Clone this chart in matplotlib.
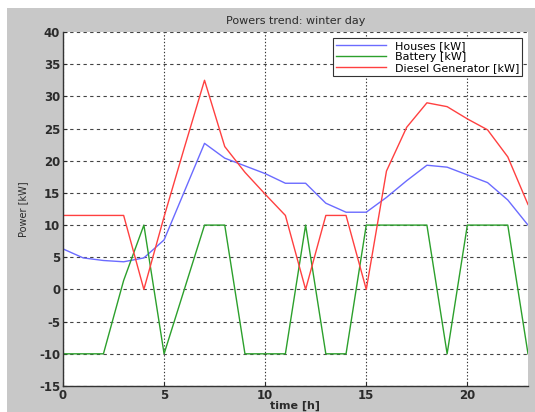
import matplotlib
matplotlib.use("Agg")
import matplotlib.pyplot as plt
from matplotlib.patches import Rectangle

plt.rcParams["axes.unicode_minus"] = False

# valori (ore 0..23)
hours = list(range(24))
houses = [6.3, 4.9, 4.5, 4.3, 4.9, 7.7, 15.2, 22.7, 20.4, 19.2, 18.0, 16.5,
          16.5, 13.4, 12.0, 12.0, 14.3, 16.9, 19.3, 19.0, 17.8, 16.6, 13.9, 10.0]
battery = [-10, -10, -10, 1.4, 10, -10, 0, 10, 10, -10, -10, -10,
           10, -10, -10, 10, 10, 10, 10, -10, 10, 10, 10, -10]
diesel = [11.5, 11.5, 11.5, 11.5, 0, 11.3, 22.0, 32.5, 22.2, 18.2, 14.8, 11.5,
          0, 11.5, 11.5, 0, 18.4, 25.2, 29.0, 28.4, 26.5, 24.8, 20.6, 13.2]
x_ticks = [0, 5, 10, 15, 20]
y_ticks = list(range(-15, 41, 5))

grey = "#c8c8c8"
txt = "#2b2b2b"

fig = plt.figure(figsize=(5.35, 4.12), dpi=100, facecolor="white")
# sfondo grigio stile MATLAB
fig.patches.append(Rectangle((7 / 535, 0), 1, 1 - 8 / 412, transform=fig.transFigure,
                             facecolor=grey, edgecolor="none", zorder=-1))

ax = fig.add_axes([63 / 535, 1 - 386 / 412, 465 / 535, 354 / 412])
ax.set_facecolor("white")

ax.plot(hours, houses, color="#6b6bff", lw=1.0, label="Houses [kW]")
ax.plot(hours, battery, color="#2ca02c", lw=1.0, label="Battery [kW]")
ax.plot(hours, diesel, color="#ff4040", lw=1.0, label="Diesel Generator [kW]")

ax.set_xlim(0, 23)
ax.set_ylim(-15, 40)
ax.set_xticks(x_ticks)
ax.set_yticks(y_ticks)
# verticali a puntini, orizzontali tratteggiate
ax.grid(True, axis="x", color="#333333", linestyle=(0, (1.2, 1.8)), linewidth=0.8)
ax.grid(True, axis="y", color="#444444", linestyle=(0, (3, 3)), linewidth=0.8)

for s in ["top", "right"]:
    ax.spines[s].set_visible(False)
for s in ["left", "bottom"]:
    ax.spines[s].set_color("#333333")
    ax.spines[s].set_linewidth(1.0)

ax.tick_params(direction="in", length=3, colors=txt, labelsize=8.5, pad=2)
for lab in ax.get_xticklabels() + ax.get_yticklabels():
    lab.set_fontweight("bold")

ax.set_title("Powers trend: winter day", fontsize=8, color=txt, pad=6)
ax.set_xlabel("time [h]", fontsize=8, fontweight="bold", color=txt, labelpad=-1)
ax.set_ylabel("Power [kW]", fontsize=7, color=txt, labelpad=8)

leg = ax.legend(loc="upper right", fontsize=8, fancybox=False, framealpha=1,
                edgecolor="#333333", borderpad=0.3, labelspacing=0.1,
                handlelength=4.5, borderaxespad=0.5)
leg.get_frame().set_linewidth(0.8)

fig.savefig("out.png", dpi=100, facecolor=fig.get_facecolor())
